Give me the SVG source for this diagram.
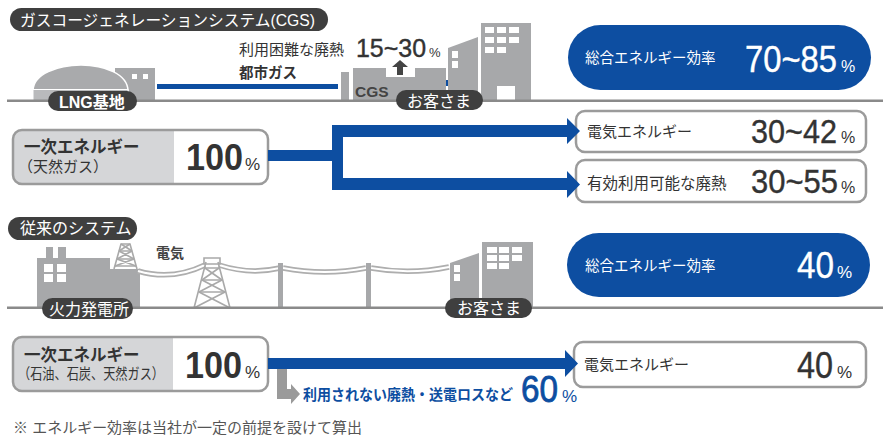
<svg xmlns="http://www.w3.org/2000/svg" width="883" height="437" viewBox="0 0 883 437">
  <defs>
    <style>
      .jp { font-family: "Liberation Sans", "Noto Sans CJK JP", sans-serif; }
      .num { font-family: "Liberation Sans", Arial, sans-serif; }
      .pill { fill: #3f3f3f; }
      .pilltxt { fill: #ffffff; font-size: 16px; }
      .bld { fill: #a7a8aa; }
      .win { fill: #ffffff; }
      .ground { fill: #8a8a8a; }
      .box { fill: #ffffff; stroke: #9b9b9b; stroke-width: 2.5; }
      .boxframe { fill: none; stroke: #9b9b9b; stroke-width: 2.5; }
      .boxgray { fill: #d5d6d8; }
      .dark { fill: #333333; }
      .blue { fill: #0d4ea1; }
      .cable { fill: none; stroke: #aeaeae; stroke-width: 5.5; }
      .cablein { fill: none; stroke: #ffffff; stroke-width: 2; }
      .lattice { fill: none; stroke: #a9a9a9; stroke-width: 1.6; }
    </style>
  </defs>

  <rect width="883" height="437" fill="#ffffff"/>

  <!-- ===== CGS system ===== -->
  <g id="title-cgs">
    <rect class="pill" x="10" y="8" width="318" height="23" rx="11.5"/>
    <text class="jp pilltxt" x="20" y="25.5" font-size="15.5" textLength="295" lengthAdjust="spacingAndGlyphs">ガスコージェネレーションシステム(CGS)</text>
  </g>

  <!-- city gas pipeline (runs behind the buildings) -->
  <rect class="blue" x="157" y="84" width="181" height="5"/>
  <rect class="blue" x="445" y="80" width="4" height="6"/>

  <g id="lng-base">
    <rect class="bld" x="115" y="68" width="40" height="33"/>
    <rect class="win" x="132" y="74" width="5" height="5"/>
    <rect class="win" x="143" y="74" width="5" height="5"/>
    <path d="M33,91 C33,74 58,65 81,65 C104,65 128,74 128,91 Z" fill="#a9aaac" stroke="#ffffff" stroke-width="1.5"/>
    <rect x="33" y="89.5" width="95" height="11" fill="#b9babc" stroke="#ffffff" stroke-width="1"/>
  </g>

  <g id="cgs-unit">
    <rect class="bld" x="341" y="72" width="8" height="29"/>
    <path class="bld" d="M353,101 V68 H386 V77 H415 V68 H446 V101 Z"/>
    <path fill="#444444" d="M400,60 L408,67 H403 V75 H397 V67 H392 Z"/>
    <text class="num" x="355" y="97" font-size="15.5" font-weight="700" fill="#444444">CGS</text>
  </g>

  <g id="customer-top">
    <path class="bld" d="M448,48 L478,37 V101 H448 Z"/>
    <rect class="win" x="452" y="51" width="6" height="7"/>
    <rect class="win" x="452" y="61" width="6" height="7"/>
    <rect class="bld" x="481" y="23" width="50" height="78"/>
    <rect class="win" x="485" y="27" width="9" height="6"/>
    <rect class="win" x="497" y="27" width="9" height="6"/>
    <rect class="win" x="509" y="27" width="10" height="6"/>
    <rect class="win" x="485" y="37" width="9" height="6"/>
    <rect class="win" x="497" y="37" width="9" height="6"/>
    <rect class="win" x="509" y="37" width="10" height="6"/>
    <rect class="win" x="485" y="47" width="9" height="6"/>
    <rect class="win" x="497" y="47" width="9" height="6"/>
    <rect class="win" x="497" y="86" width="18" height="15"/>
  </g>

  <rect class="ground" x="7" y="99.5" width="876" height="2.5"/>

  <g id="label-lng">
    <rect class="pill" x="48" y="91" width="89" height="20" rx="10"/>
    <text class="jp pilltxt" x="59" y="107.5" font-size="16.5" font-weight="700">LNG基地</text>
  </g>
  <g id="label-customer-top">
    <rect class="pill" x="396" y="90" width="87" height="20" rx="10"/>
    <text class="jp pilltxt" x="407" y="106.5" font-size="15.5">お客さま</text>
  </g>

  <text class="jp dark" x="239" y="54.5" font-size="15">利用困難な廃熱</text>
  <text class="jp dark" x="239" y="77.5" font-size="14.5" font-weight="700">都市ガス</text>
  <g id="heat-value">
    <text class="num dark" x="356" y="57" font-size="25" textLength="70" lengthAdjust="spacingAndGlyphs" stroke="#333333" stroke-width="0.4">15~30</text>
    <text class="num dark" x="429" y="57" font-size="13">%</text>
  </g>

  <g id="efficiency-cgs">
    <rect class="blue" x="568" y="25" width="303" height="65" rx="32.5"/>
    <text class="jp" x="585" y="62.5" font-size="14.5" fill="#ffffff">総合エネルギー効率</text>
    <text class="num" transform="translate(745 72) scale(0.885 1)" font-size="37" fill="#ffffff" stroke="#ffffff" stroke-width="0.4">70~85</text>
    <text class="num" x="841" y="72" font-size="16" fill="#ffffff">%</text>
  </g>

  <g id="primary-cgs">
    <rect class="boxgray" x="13" y="130" width="255" height="54" rx="9"/>
    <path fill="#ffffff" d="M174,130 H259 Q268,130 268,139 V175 Q268,184 259,184 H174 Z"/>
    <rect class="boxframe" x="13" y="130" width="255" height="54" rx="9"/>
    <text class="jp dark" x="24" y="153" font-size="16.5" font-weight="700">一次エネルギー</text>
    <text class="jp dark" x="18" y="172" font-size="15">（天然ガス）</text>
    <text class="num dark" x="186" y="170" font-size="36" font-weight="700" textLength="57" lengthAdjust="spacingAndGlyphs">100</text>
    <text class="num dark" x="245" y="170" font-size="17">%</text>
  </g>

  <g id="out-electric">
    <rect class="box" x="576" y="111" width="290" height="41" rx="9"/>
    <text class="jp dark" x="587" y="137" font-size="15">電気エネルギー</text>
    <text class="num dark" transform="translate(751 143) scale(0.9 1)" font-size="34" stroke="#333333" stroke-width="0.4">30~42</text>
    <text class="num dark" x="841" y="143" font-size="16">%</text>
  </g>
  <g id="out-heat">
    <rect class="box" x="576" y="160" width="290" height="42" rx="9"/>
    <text class="jp dark" x="587" y="188.5" font-size="15.5">有効利用可能な廃熱</text>
    <text class="num dark" transform="translate(751 193) scale(0.91 1)" font-size="34" stroke="#333333" stroke-width="0.4">30~55</text>
    <text class="num dark" x="841" y="193" font-size="16">%</text>
  </g>

  <!-- ===== conventional system ===== -->
  <g id="title-conventional">
    <rect class="pill" x="8" y="217" width="129" height="23" rx="11.5"/>
    <text class="jp pilltxt" x="20" y="234" font-size="15.5">従来のシステム</text>
  </g>

  <g id="power-plant">
    <path class="bld" d="M37,308 V258 H46 V247 H53 V258 H58 V247 H66 V258 H110 V269 H140 V308 Z"/>
    <rect class="win" x="44" y="264" width="9" height="8"/>
    <rect class="win" x="57" y="264" width="9" height="8"/>
    <rect class="win" x="44" y="274" width="9" height="8"/>
    <rect class="win" x="57" y="274" width="9" height="8"/>
    <!-- small lattice tower on the roof -->
    <g class="lattice">
      <path d="M114,269 L121,244 H130 L137,269"/>
      <path d="M119,251 H132 M117,259 H134 M115,266 H136"/>
      <path d="M121,244 L132,251 M130,244 L119,251 M119,251 L134,259 M132,251 L117,259 M117,259 L136,266 M134,259 L115,266"/>
    </g>
  </g>

  <!-- transmission cables -->
  <g id="cables">
    <path class="cable" d="M138,271 Q172,281 205,265 M219,265 Q250,275 280,268 M283,268 Q325,276 366,268 M371,268 Q410,275 449,267"/>
    <path class="cablein" d="M138,271 Q172,281 205,265 M219,265 Q250,275 280,268 M283,268 Q325,276 366,268 M371,268 Q410,275 449,267"/>
  </g>

  <g id="pylon">
    <g class="lattice" stroke="#b2b2b2" stroke-width="2">
      <path d="M194,308 L206,262 M230,308 L218,262"/>
      <path d="M204,258 H220 V264 H204 Z"/>
      <path d="M205,268 H219 M202,280 H222 M199,292 H225"/>
      <path d="M205,268 L222,280 M219,268 L202,280 M202,280 L225,292 M222,280 L199,292 M199,292 L230,308 M225,292 L194,308"/>
    </g>
  </g>

  <g id="poles">
    <rect class="bld" x="278" y="263" width="5" height="45"/>
    <rect class="bld" x="366" y="263" width="5" height="45"/>
  </g>

  <text class="jp" x="156" y="257.5" font-size="14" font-weight="700" fill="#444444">電気</text>

  <g id="customer-bottom">
    <path class="bld" d="M450,263 L479,253 V308 H450 Z"/>
    <rect class="win" x="454" y="265" width="6" height="7"/>
    <rect class="win" x="454" y="274" width="6" height="7"/>
    <rect class="bld" x="482" y="242" width="51" height="66"/>
    <rect class="win" x="487" y="247" width="10" height="6"/>
    <rect class="win" x="499" y="247" width="10" height="6"/>
    <rect class="win" x="512" y="247" width="10" height="6"/>
    <rect class="win" x="487" y="255" width="10" height="6"/>
    <rect class="win" x="499" y="255" width="10" height="6"/>
    <rect class="win" x="512" y="255" width="10" height="6"/>
    <rect class="win" x="487" y="263" width="10" height="6"/>
    <rect class="win" x="499" y="263" width="10" height="6"/>
  </g>

  <rect class="ground" x="7" y="306.5" width="876" height="2.5"/>

  <g id="label-plant">
    <rect class="pill" x="42" y="298" width="91" height="21" rx="10.5"/>
    <text class="jp pilltxt" x="49" y="315" font-size="16">火力発電所</text>
  </g>
  <g id="label-customer-bottom">
    <rect class="pill" x="445" y="298" width="87" height="20" rx="10"/>
    <text class="jp pilltxt" x="457" y="314" font-size="15.5">お客さま</text>
  </g>

  <g id="efficiency-conventional">
    <rect class="blue" x="567" y="233" width="303" height="64" rx="32"/>
    <text class="jp" x="585" y="270.5" font-size="14.5" fill="#ffffff">総合エネルギー効率</text>
    <text class="num" x="797" y="278" font-size="36" fill="#ffffff" textLength="37" lengthAdjust="spacingAndGlyphs" stroke="#ffffff" stroke-width="0.4">40</text>
    <text class="num" x="837" y="278" font-size="17" fill="#ffffff">%</text>
  </g>

  <g id="primary-conventional">
    <rect class="boxgray" x="13" y="337" width="255" height="54" rx="9"/>
    <path fill="#ffffff" d="M173,337 H259 Q268,337 268,346 V382 Q268,391 259,391 H173 Z"/>
    <rect class="boxframe" x="13" y="337" width="255" height="54" rx="9"/>
    <text class="jp dark" x="24" y="360.5" font-size="16.5" font-weight="700">一次エネルギー</text>
    <text class="jp dark" x="18" y="379" font-size="15" textLength="146" lengthAdjust="spacingAndGlyphs">（石油、石炭、天然ガス）</text>
    <text class="num dark" x="185" y="378" font-size="36" font-weight="700" textLength="57" lengthAdjust="spacingAndGlyphs">100</text>
    <text class="num dark" x="245" y="378" font-size="17">%</text>
  </g>

  <g id="out-electric-conventional">
    <rect class="box" x="574" y="342" width="292" height="45" rx="9"/>
    <text class="jp dark" x="584" y="370" font-size="15">電気エネルギー</text>
    <text class="num dark" x="797" y="378" font-size="36" textLength="36" lengthAdjust="spacingAndGlyphs" stroke="#333333" stroke-width="0.4">40</text>
    <text class="num dark" x="837" y="378" font-size="17">%</text>
  </g>

  <!-- ===== flow connectors ===== -->
  <g id="connectors">
    <path class="blue" d="M268,150 H332 V125 H567 V118 L580,131 L567,144 V137 H343 V178 H567 V171 L580,184.5 L567,198 V190 H332 V161 H268 Z"/>
    <path fill="#9a9a9a" d="M277,369 H287 V389 H291 V384 L300,394 L291,404 V399 H277 Z"/>
    <path class="blue" d="M268,358 H565 V350 L578,363.5 L565,377 V369 H268 Z"/>
  </g>

  <g id="loss-label">
    <text class="jp blue" x="303" y="400" font-size="14.5" font-weight="700" textLength="210" lengthAdjust="spacingAndGlyphs">利用されない廃熱・送電ロスなど</text>
    <text class="num blue" x="521" y="402" font-size="37" textLength="37" lengthAdjust="spacingAndGlyphs" stroke="#0d4ea1" stroke-width="0.8">60</text>
    <text class="num blue" x="562" y="402" font-size="17">%</text>
  </g>

  <text class="jp" x="13" y="432.5" font-size="14.5" fill="#555555" textLength="349" lengthAdjust="spacingAndGlyphs">※ エネルギー効率は当社が一定の前提を設けて算出</text>
</svg>
